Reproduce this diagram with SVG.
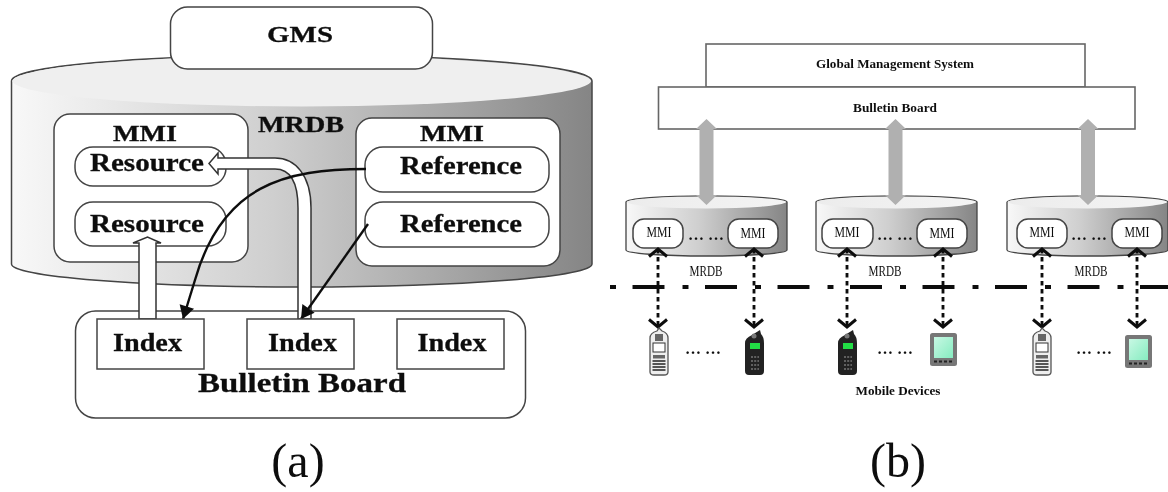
<svg xmlns="http://www.w3.org/2000/svg" xmlns:xlink="http://www.w3.org/1999/xlink" width="1168" height="492" viewBox="0 0 1168 492">
<style>
text{font-family:"Liberation Serif","Times New Roman",serif;fill:#111;text-anchor:middle}
.b{font-weight:bold;stroke:#111;stroke-width:.3}
.box{fill:#fff;stroke:#444;stroke-width:1.5}
.thin{fill:#fff;stroke:#666;stroke-width:1.6}
.hollow{fill:#fff;stroke:#333;stroke-width:1.5}
.black{fill:none;stroke:#111;stroke-width:2.4}
.grey{fill:#b0b0b0}
.dot{fill:none;stroke:#111;stroke-width:2.8;stroke-dasharray:4.5 3.5;marker-start:url(#vUp);marker-end:url(#vDown)}
.mmi{font-size:14px}
.mrdb{font-size:14px}
.dots{font-size:16px;font-weight:bold}
.ia{font-size:25px;font-weight:bold;stroke:#111;stroke-width:.3}
.sm{font-size:11.5px;font-weight:bold}
</style>
<defs>
<filter id="soft" filterUnits="userSpaceOnUse" x="0" y="0" width="1168" height="492"><feGaussianBlur stdDeviation="0.7"/></filter>
<linearGradient id="side" x1="0" y1="0" x2="1" y2="0"><stop offset="0" stop-color="#f8f8f8"/><stop offset=".45" stop-color="#cfcfcf"/><stop offset="1" stop-color="#858585"/></linearGradient>
<linearGradient id="top" x1="0" y1="0" x2="1" y2="0"><stop offset="0" stop-color="#ececec"/><stop offset="1" stop-color="#f4f4f4"/></linearGradient>
<linearGradient id="screen" x1="0" y1="0" x2="1" y2="1"><stop offset="0" stop-color="#c8f8e4"/><stop offset="1" stop-color="#86ecc0"/></linearGradient>
<marker id="vUp" markerUnits="userSpaceOnUse" markerWidth="22" markerHeight="14" refX="10" refY="1.5" orient="0" overflow="visible"><path d="M1,9 L10,1.5 L19,9" fill="none" stroke="#111" stroke-width="3"/></marker>
<marker id="vDown" markerUnits="userSpaceOnUse" markerWidth="22" markerHeight="14" refX="10" refY="9" orient="0" overflow="visible"><path d="M1,1.5 L10,9 L19,1.5" fill="none" stroke="#111" stroke-width="3"/></marker>
<marker id="head" markerUnits="userSpaceOnUse" markerWidth="18" markerHeight="18" refX="13" refY="7.5" orient="auto" overflow="visible"><path d="M0,0 L13,7.500 L0,15 Z" fill="#111"/></marker>
<g id="cyl"><path d="M0,6 A80.500,6 0 0 1 161,6 V54 A80.500,6 0 0 1 0,54 Z" fill="url(#side)" stroke="#444" stroke-width="1.300"/><path d="M0.700,6 A80,6 0 0 1 160.300,6 A80,7 0 0 1 0.700,6 Z" fill="url(#top)"/></g>
<g id="dblArrow"><path class="grey" d="M0,0 L10.500,10 H7 V76 H10.500 L0,86 L-10.500,76 H-7 V10 H-10.500 Z"/></g>
<g id="phoneW"><path d="M1,8 Q1,3 8,1 L10,-2 L13,1 Q19,3 19,8 V42 Q19,45 15,45 H5 Q1,45 1,42 Z" fill="#eee" stroke="#555" stroke-width="1.300"/><rect x="6" y="4" width="8" height="7" fill="#666"/><rect x="4" y="13" width="12" height="9" fill="#fff" stroke="#333" stroke-width="1"/><rect x="4" y="25" width="12" height="3.500" fill="#666"/><path d="M3.500,31 H16.500 M3.500,34 H16.500 M3.500,37 H16.500 M3.500,40 H16.500" stroke="#555" stroke-width="1.800"/></g>
<g id="phoneB"><path d="M0,13 Q0,8 7,5 L15,0 L16,4 Q19,7 19,13 V41 Q19,45 15,45 H4 Q0,45 0,41 Z" fill="#222"/><circle cx="9" cy="6" r="2.500" fill="#777"/><rect x="5" y="13" width="10" height="6" fill="#22dd44"/><path d="M6,27 H14 M6,31 H14 M6,35 H14 M6,39 H14" stroke="#777" stroke-width="1.300" stroke-dasharray="2 1.200"/></g>
<g id="tablet"><rect x="0" y="0" width="27" height="33" rx="2.500" fill="#777"/><rect x="4" y="4" width="19" height="21" fill="url(#screen)"/><path d="M4,28.500 H23" stroke="#222" stroke-width="2" stroke-dasharray="3 2"/></g>
</defs>
<rect width="1168" height="492" fill="#fff"/>
<g filter="url(#soft)">

<g id="mrdb-a">
<path d="M11.500,81 A290.250,26 0 0 1 592,81 V264 A290.250,23 0 0 1 11.500,264 Z" fill="url(#side)" stroke="#444" stroke-width="1.500"/>
<path d="M12.300,81 A289.500,25.500 0 0 1 591.200,81 A289.500,26 0 0 1 12.300,81 Z" fill="#efefef"/>
<text class="b" x="301" y="132" font-size="23" textLength="86" lengthAdjust="spacingAndGlyphs">MRDB</text>
</g>
<g id="gms"><rect class="box" x="170.500" y="7" width="262" height="62" rx="17"/><text class="b" x="300" y="42" font-size="24" textLength="66" lengthAdjust="spacingAndGlyphs">GMS</text></g>
<g id="mmi-left"><rect class="box" x="54" y="114" width="194" height="148" rx="16"/><text class="b" x="145" y="141" font-size="23" textLength="64" lengthAdjust="spacingAndGlyphs">MMI</text></g>
<g id="resource-1"><rect class="box" x="75" y="147" width="151" height="39" rx="18"/><text class="ia" x="147" y="170.500" textLength="114" lengthAdjust="spacingAndGlyphs">Resource</text></g>
<g id="resource-2"><rect class="box" x="75" y="202" width="151" height="44" rx="18"/><text class="ia" x="147" y="232" textLength="114" lengthAdjust="spacingAndGlyphs">Resource</text></g>
<g id="mmi-right"><rect class="box" x="356" y="118" width="204" height="148" rx="16"/><text class="b" x="452" y="141" font-size="23" textLength="64" lengthAdjust="spacingAndGlyphs">MMI</text></g>
<g id="reference-1"><rect class="box" x="365" y="147" width="184" height="45" rx="18"/><text class="ia" x="461" y="174" textLength="122" lengthAdjust="spacingAndGlyphs">Reference</text></g>
<g id="reference-2"><rect class="box" x="365" y="202" width="184" height="45" rx="18"/><text class="ia" x="461" y="232" textLength="122" lengthAdjust="spacingAndGlyphs">Reference</text></g>
<g id="board-a"><rect class="box" x="75.500" y="311" width="450" height="107" rx="20"/><text class="b" x="302" y="392" font-size="28" textLength="208" lengthAdjust="spacingAndGlyphs">Bulletin Board</text></g>

<g id="connectors-a">
<path class="hollow" d="M139,319 V243 H133 L147.500,237 L161,243 H156 V319 Z"/>
<path class="hollow" d="M311,319 V208 C311,175 295,158 275,158 H218 V153 L209,163.500 L218,174 V169 H275 C290,169 298,182 298,208 V319 Z"/>
<path class="black" marker-end="url(#head)" d="M366,169 C285,169 222,185 195,280 L183,319"/>
<path class="black" marker-end="url(#head)" d="M368,224 L301,319"/>
</g>

<g id="index-1"><rect class="box" x="97" y="319" width="107" height="50"/><text class="ia" x="147.500" y="351" textLength="69" lengthAdjust="spacingAndGlyphs">Index</text></g>
<g id="index-2"><rect class="box" x="247" y="319" width="107" height="50"/><text class="ia" x="302.500" y="351" textLength="69" lengthAdjust="spacingAndGlyphs">Index</text></g>
<g id="index-3"><rect class="box" x="397" y="319" width="107" height="50"/><text class="ia" x="452" y="351" textLength="69" lengthAdjust="spacingAndGlyphs">Index</text></g>

<g id="gms-b"><rect class="thin" x="706" y="44" width="379" height="43"/><text class="sm" x="895" y="68" textLength="158" lengthAdjust="spacingAndGlyphs">Global Management System</text></g>
<g id="board-b"><rect class="thin" x="658.500" y="87" width="476.500" height="42"/><text class="sm" x="895" y="112" textLength="84" lengthAdjust="spacingAndGlyphs">Bulletin Board</text></g>

<g id="mrdb-b1"><use xlink:href="#cyl" href="#cyl" x="626" y="196"/><text class="mrdb" x="706" y="276" textLength="33" lengthAdjust="spacingAndGlyphs">MRDB</text></g>
<g id="mrdb-b2"><use xlink:href="#cyl" href="#cyl" x="816" y="196"/><text class="mrdb" x="885" y="276" textLength="33" lengthAdjust="spacingAndGlyphs">MRDB</text></g>
<g id="mrdb-b3"><use xlink:href="#cyl" href="#cyl" x="1007" y="196"/><text class="mrdb" x="1091" y="276" textLength="33" lengthAdjust="spacingAndGlyphs">MRDB</text></g>

<g id="mmi-b1"><rect class="box" x="633" y="219" width="50" height="29" rx="11"/><text class="mmi" x="659" y="237" textLength="25" lengthAdjust="spacingAndGlyphs">MMI</text></g>
<g id="mmi-b2"><rect class="box" x="728" y="219" width="50" height="29" rx="11"/><text class="mmi" x="753" y="238" textLength="25" lengthAdjust="spacingAndGlyphs">MMI</text></g>
<g id="mmi-b3"><rect class="box" x="822" y="219" width="51" height="29" rx="11"/><text class="mmi" x="847" y="237" textLength="25" lengthAdjust="spacingAndGlyphs">MMI</text></g>
<g id="mmi-b4"><rect class="box" x="917" y="219" width="50" height="29" rx="11"/><text class="mmi" x="942" y="238" textLength="25" lengthAdjust="spacingAndGlyphs">MMI</text></g>
<g id="mmi-b5"><rect class="box" x="1017" y="219" width="50" height="29" rx="11"/><text class="mmi" x="1042" y="237" textLength="25" lengthAdjust="spacingAndGlyphs">MMI</text></g>
<g id="mmi-b6"><rect class="box" x="1112" y="219" width="50" height="29" rx="11"/><text class="mmi" x="1137" y="237" textLength="25" lengthAdjust="spacingAndGlyphs">MMI</text></g>
<text class="dots" x="706" y="240">… …</text>
<text class="dots" x="895" y="240">… …</text>
<text class="dots" x="1089" y="240">… …</text>

<g id="connectors-b">
<use xlink:href="#dblArrow" href="#dblArrow" x="706.500" y="119"/>
<use xlink:href="#dblArrow" href="#dblArrow" x="895.500" y="119"/>
<use xlink:href="#dblArrow" href="#dblArrow" x="1088" y="119"/>
<path d="M610,287 H1168" fill="none" stroke="#111" stroke-width="4" stroke-dasharray="6 16.500 32 18"/>
<path class="dot" d="M658,249 V327"/>
<path class="dot" d="M754,249 V327"/>
<path class="dot" d="M847,249 V327"/>
<path class="dot" d="M943,249 V327"/>
<path class="dot" d="M1042,249 V327"/>
<path class="dot" d="M1137,249 V327"/>
</g>

<g id="device-1"><use xlink:href="#phoneW" href="#phoneW" x="649" y="330"/></g>
<g id="device-2"><use xlink:href="#phoneB" href="#phoneB" x="745" y="330"/></g>
<g id="device-3"><use xlink:href="#phoneB" href="#phoneB" x="838" y="330"/></g>
<g id="device-4"><use xlink:href="#tablet" href="#tablet" x="930" y="333"/></g>
<g id="device-5"><use xlink:href="#phoneW" href="#phoneW" x="1032" y="330"/></g>
<g id="device-6"><use xlink:href="#tablet" href="#tablet" x="1125" y="335"/></g>
<text class="dots" x="703" y="354">… …</text>
<text class="dots" x="895" y="354">… …</text>
<text class="dots" x="1094" y="354">… …</text>
<text class="sm" x="898" y="395" textLength="85" lengthAdjust="spacingAndGlyphs">Mobile Devices</text>

<text x="298" y="477" font-size="48">(a)</text>
<text x="898" y="477" font-size="48">(b)</text>
</g>
</svg>
